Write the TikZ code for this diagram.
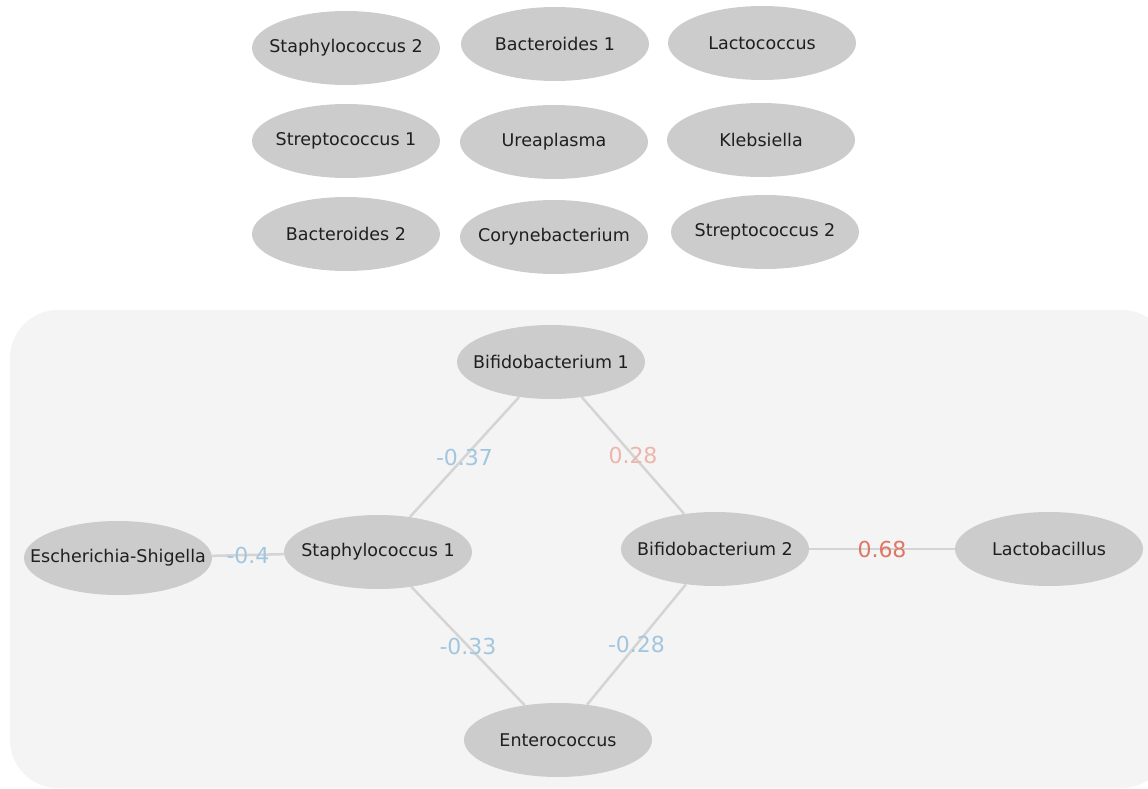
\documentclass[tikz,border=0pt]{standalone}
\usepackage{fontspec}
\setmainfont{DejaVu Sans}
\usetikzlibrary{shapes.geometric}
\definecolor{nodegray}{HTML}{CCCCCC}
\definecolor{edgegray}{HTML}{D4D4D4}
\definecolor{groupbg}{HTML}{F4F4F4}
\definecolor{negblue}{HTML}{A3C6DF}
\definecolor{weakred}{HTML}{EDB5AC}
\definecolor{strongred}{HTML}{DE7565}
\begin{document}
\begin{tikzpicture}[x=1pt,y=-1pt,
    taxon/.style={ellipse,fill=nodegray,minimum width=188pt,minimum height=74pt,inner sep=0pt,text=black!88,font=\fontsize{17.5}{20}\selectfont,
        execute at begin node={\hbox to 0pt\bgroup\hss},execute at end node={\hss\egroup}},
    link/.style={draw=edgegray,line width=2.5pt},
    weight/.style={midway,inner sep=0pt,font=\fontsize{22}{24}\selectfont}]
    \useasboundingbox (0,0) rectangle (1148,789);
    \fill[groupbg,rounded corners=48pt] (10,310) rectangle (1170,788);

    \node[taxon] (staph2) at (346,48) {Staphylococcus 2};
    \node[taxon] (bact1) at (555,44) {Bacteroides 1};
    \node[taxon] (lacto) at (762,43) {Lactococcus};
    \node[taxon] (strep1) at (346,141) {Streptococcus 1};
    \node[taxon] (urea) at (554,142) {Ureaplasma};
    \node[taxon] (kleb) at (761,140) {Klebsiella};
    \node[taxon] (bact2) at (346,234) {Bacteroides 2};
    \node[taxon] (coryne) at (554,237) {Corynebacterium};
    \node[taxon] (strep2) at (765,232) {Streptococcus 2};

    \node[taxon] (bifido1) at (551,362) {Bifidobacterium 1};
    \node[taxon] (esch) at (118,558) {Escherichia-Shigella};
    \node[taxon] (staph1) at (378,552) {Staphylococcus 1};
    \node[taxon] (bifido2) at (715,549) {Bifidobacterium 2};
    \node[taxon] (lactob) at (1049,549) {Lactobacillus};
    \node[taxon] (entero) at (558,740) {Enterococcus};

    \draw[link] (esch) -- (staph1) node[weight,text=negblue] {-0.4};
    \draw[link] (staph1) -- (bifido1) node[weight,text=negblue] {-0.37};
    \draw[link] (bifido1) -- (bifido2) node[weight,text=weakred] {0.28};
    \draw[link] (bifido2) -- (lactob) node[weight,text=strongred] {0.68};
    \draw[link] (staph1) -- (entero) node[weight,text=negblue] {-0.33};
    \draw[link] (bifido2) -- (entero) node[weight,text=negblue] {-0.28};
\end{tikzpicture}
\end{document}
